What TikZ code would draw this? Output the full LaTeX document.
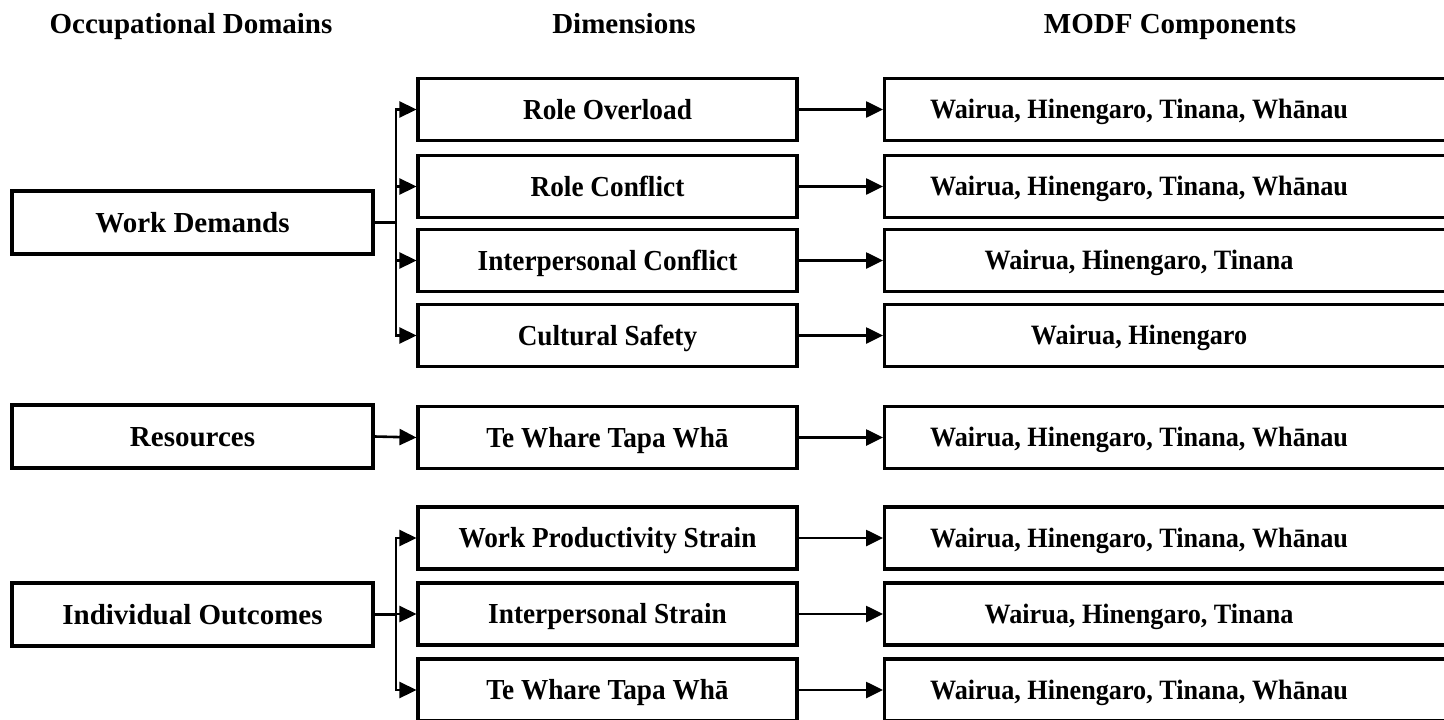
\documentclass[tikz,border=0pt]{standalone}
\usepackage{fontspec}
\setmainfont{Liberation Serif}
% slightly narrower faces for the dimension and component columns
\newfontfamily\dimfont{Liberation Serif}[FakeStretch=0.94]
\newfontfamily\compfont{Liberation Serif}[FakeStretch=0.935]
\usetikzlibrary{arrows.meta}

% right-hand boxes run past the page edge; their text stays centred on the visible part
\newcommand{\comptext}[1]{\makebox[509pt][c]{#1}\hspace*{91pt}}

\begin{document}
\begin{tikzpicture}[x=1pt,y=-1pt,
  font=\fontsize{29}{34}\bfseries\selectfont,
  box/.style={draw=black,line width=3.1pt,rectangle,inner xsep=0pt,inner ysep=0pt,
    text height=19pt,text depth=0pt},
  leftbox/.style={box,minimum width=361pt,minimum height=63pt},
  midbox/.style={box,minimum width=379pt,minimum height=62pt,
    font=\dimfont\fontsize{29}{34}\bfseries\selectfont},
  compbox/.style={box,minimum height=62pt,anchor=west,text height=18.5pt,
    font=\compfont\fontsize{28}{33}\bfseries\selectfont},
  heading/.style={anchor=base,inner sep=0pt},
  link/.style={line width=2.6pt,-{Triangle[length=17pt,width=16pt]}},
  trunk/.style={line width=2.6pt}]

\useasboundingbox (0,0) rectangle (1444,720);
\clip (0,0) rectangle (1444,720);

% column headings
\node[heading] (h1) at (191,33) {Occupational Domains};
\node[heading] (h2) at (624,33) {Dimensions};
\node[heading] (h3) at (1170,33) {MODF Components};

% occupational domains
\node[leftbox] (wd)  at (192.5,222.5) {Work Demands};
\node[leftbox] (res) at (192.5,436.5) {Resources};
\node[leftbox] (ind) at (192.5,614.5) {Individual Outcomes};

% dimensions
\node[midbox] (ro)  at (607.5,109.5) {Role Overload};
\node[midbox] (rc)  at (607.5,186.5) {Role Conflict};
\node[midbox] (ic)  at (607.5,260.5) {Interpersonal Conflict};
\node[midbox] (cs)  at (607.5,335.5) {Cultural Safety};
\node[midbox] (tw1) at (607.5,437.5) {Te Whare Tapa Whā};
\node[midbox] (wps) at (607.5,538)   {Work Productivity Strain};
\node[midbox] (is)  at (607.5,614)   {Interpersonal Strain};
\node[midbox] (tw2) at (607.5,690)   {Te Whare Tapa Whā};

% MODF components
\node[compbox] (c1) at (883,109.5) {\comptext{Wairua, Hinengaro, Tinana, Whānau}};
\node[compbox] (c2) at (883,186.5) {\comptext{Wairua, Hinengaro, Tinana, Whānau}};
\node[compbox] (c3) at (883,260.5) {\comptext{Wairua, Hinengaro, Tinana}};
\node[compbox] (c4) at (883,335.5) {\comptext{Wairua, Hinengaro}};
\node[compbox] (c5) at (883,437.5) {\comptext{Wairua, Hinengaro, Tinana, Whānau}};
\node[compbox] (c6) at (883,538)   {\comptext{Wairua, Hinengaro, Tinana, Whānau}};
\node[compbox] (c7) at (883,614)   {\comptext{Wairua, Hinengaro, Tinana}};
\node[compbox] (c8) at (883,690)   {\comptext{Wairua, Hinengaro, Tinana, Whānau}};

% branching from Work Demands
\coordinate (j1) at (396,222.5);
\draw[trunk] (wd.east) -- (j1);
\foreach \t in {ro,rc,ic,cs} \draw[link] (j1) |- (\t.west);

% Resources
\draw[link] (res.east) -- (tw1.west);

% branching from Individual Outcomes
\coordinate (j2) at (396,614.5);
\draw[trunk] (ind.east) -- (j2);
\foreach \t in {wps,is,tw2} \draw[link] (j2) |- (\t.west);

% dimensions to components
\draw[link] (ro.east)  -- (c1.west);
\draw[link] (rc.east)  -- (c2.west);
\draw[link] (ic.east)  -- (c3.west);
\draw[link] (cs.east)  -- (c4.west);
\draw[link] (tw1.east) -- (c5.west);
\draw[link] (wps.east) -- (c6.west);
\draw[link] (is.east)  -- (c7.west);
\draw[link] (tw2.east) -- (c8.west);
\end{tikzpicture}
\end{document}
